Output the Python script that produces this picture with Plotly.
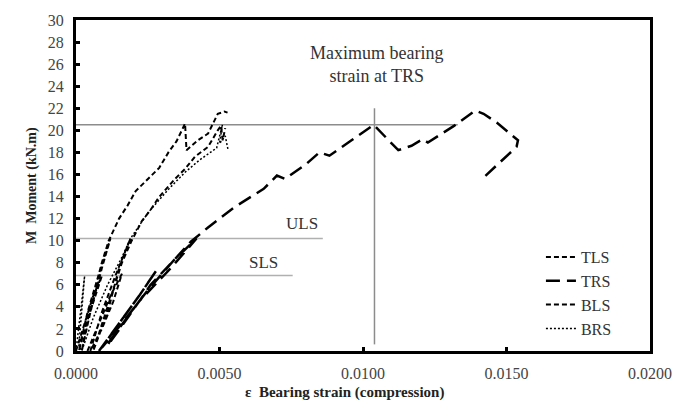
import plotly.graph_objects as go

# ---- data ----
TLS_x = [0.0000, 0.0003, 0.0006, 0.0009, 0.0006, 0.0003, 0.0001, 0.0004, 0.0008, 0.0012, 0.0009, 0.0005,
         0.0002, 0.0005, 0.0009, 0.00114, 0.0015, 0.0018, 0.00208, 0.0026, 0.0029, 0.00322, 0.0035,
         0.0038, 0.00385, 0.00425, 0.0046, 0.00494, 0.00517, 0.00528]
TLS_y = [0, 2.5, 5, 6.8, 4.5, 2, 0, 3.5, 7, 10.2, 7.5, 3.5,
         0, 4, 8, 10, 12, 13.2, 14.5, 15.8, 16.6, 18.0, 19.0,
         20.6, 18.2, 19.1, 19.7, 21.5, 21.7, 21.6]

TRS_x = [0.0008, 0.0015, 0.0022, 0.0028, 0.0022, 0.0015, 0.0009, 0.0016, 0.0025, 0.0034, 0.0042, 0.0033,
         0.0022, 0.0012, 0.0011, 0.0018, 0.0026, 0.0034, 0.0040, 0.0046, 0.0055, 0.00654, 0.0070,
         0.00728, 0.0080, 0.00848, 0.00883, 0.0096, 0.01037, 0.01123, 0.01169, 0.01208, 0.01226,
         0.01317, 0.01391, 0.0142, 0.01466, 0.0154, 0.01535, 0.01415]
TRS_y = [0, 2.5, 5, 7.3, 5, 2.5, 0.3, 2.5, 5.5, 8.2, 10.2, 7.5,
         4.5, 1.0, 0.5, 3, 6, 8.2, 9.9, 11.2, 13.0, 14.7, 15.9,
         15.6, 16.9, 18.0, 17.7, 19.1, 20.5, 18.2, 18.6, 19.2, 18.9,
         20.4, 21.8, 21.5, 20.7, 19.1, 18.5, 15.6]

BLS_x = [0.0004, 0.0008, 0.0012, 0.0016, 0.0013, 0.0009, 0.0005, 0.0009, 0.0014, 0.0019, 0.0015, 0.0011,
         0.0006, 0.0011, 0.0016, 0.00194, 0.0023, 0.0026, 0.00288, 0.00345, 0.0038, 0.00414, 0.0046,
         0.00494, 0.00505, 0.00511, 0.0052]
BLS_y = [0, 2.5, 5, 7.0, 4.5, 2, 0, 3.5, 7, 10.2, 7.5, 3.5,
         0, 4, 8, 10, 11.8, 12.8, 13.9, 15.6, 16.5, 17.6, 18.5,
         20.0, 20.4, 19.1, 20.2]

BRS_x = [0.0000, 0.0001, 0.0002, 0.0003, 0.0002, 0.0001, 0.0002, 0.0006, 0.0011, 0.0016, 0.0019, 0.0025,
         0.0032, 0.0038, 0.0043, 0.0047, 0.0049, 0.0051, 0.0050, 0.0052, 0.0053]
BRS_y = [0, 2, 4.5, 6.8, 3.5, 0.5, 0, 3, 6, 8.5, 10.2, 12.5,
         14.6, 16.2, 17.3, 18.0, 18.4, 20.5, 18.8, 19.5, 18.2]

# reference levels
max_moment = 20.5
max_moment_x_end = 0.0133
max_strain = 0.0104
max_strain_y = [0.6, 22.0]
ULS = 10.2
ULS_x_end = 0.0086
SLS = 6.85
SLS_x_end = 0.00755

x_ticks = [0.0, 0.005, 0.01, 0.015, 0.02]
y_ticks = list(range(0, 31, 2))

FONT = "Liberation Serif"

fig = go.Figure()
series = [
    ("TLS", TLS_x, TLS_y, dict(color="black", width=2, dash="5px,3px")),
    ("TRS", TRS_x, TRS_y, dict(color="black", width=2.5, dash="14px,7px")),
    ("BLS", BLS_x, BLS_y, dict(color="black", width=2, dash="5px,3px")),
    ("BRS", BRS_x, BRS_y, dict(color="black", width=1.5, dash="2px,2px")),
]
for name, xs, ys, ln in series:
    fig.add_trace(go.Scatter(x=xs, y=ys, mode="lines", name=name, line=ln))

fig.add_shape(type="line", x0=0, x1=max_moment_x_end, y0=max_moment, y1=max_moment,
              line=dict(color="#8c8c8c", width=1.5), layer="below")
fig.add_shape(type="line", x0=max_strain, x1=max_strain, y0=max_strain_y[0], y1=max_strain_y[1],
              line=dict(color="#8c8c8c", width=1.5), layer="below")
fig.add_shape(type="line", x0=0, x1=ULS_x_end, y0=ULS, y1=ULS,
              line=dict(color="#b0b0b0", width=1.5), layer="below")
fig.add_shape(type="line", x0=0, x1=SLS_x_end, y0=SLS, y1=SLS,
              line=dict(color="#b0b0b0", width=1.5), layer="below")

fig.add_annotation(x=0.01046, y=26.0, text="Maximum bearing<br>strain at TRS", showarrow=False,
                   font=dict(family=FONT, size=18, color="#333333"))
fig.add_annotation(x=0.00786, y=11.6, text="ULS", showarrow=False,
                   font=dict(family=FONT, size=17, color="#333333"))
fig.add_annotation(x=0.00655, y=8.0, text="SLS", showarrow=False,
                   font=dict(family=FONT, size=17, color="#333333"))

# axis titles
fig.add_annotation(xref="paper", yref="paper", x=-0.095, y=0.5, textangle=-90,
                   text="<b>M  Moment (kN.m)</b>", showarrow=False,
                   font=dict(family=FONT, size=14, color="#222222"))
fig.add_annotation(xref="paper", yref="paper", x=0.468, y=-0.125, yanchor="middle",
                   text="<b>ε  Bearing strain (compression)</b>", showarrow=False,
                   font=dict(family=FONT, size=15, color="#222222"))

fig.update_layout(
    width=684, height=410,
    margin=dict(l=76, r=23, t=19, b=59),
    plot_bgcolor="white", paper_bgcolor="white",
    font=dict(family=FONT, size=16, color="#333333"),
    showlegend=True,
    legend=dict(x=0.81, y=0.335, xanchor="left", yanchor="top", bgcolor="rgba(0,0,0,0)",
                font=dict(family=FONT, size=16, color="#333333"), tracegroupgap=0),
)
fig.update_xaxes(range=[0, 0.02], tickvals=x_ticks, tickformat=".4f", showgrid=False, zeroline=False,
                 showline=True, linecolor="black", linewidth=3, mirror=True,
                 ticks="inside", ticklen=4, tickwidth=3, tickcolor="black",
                 tickfont=dict(family=FONT, size=16, color="#444444"), ticklabelstandoff=6)
fig.update_yaxes(range=[0, 30], tickvals=y_ticks, showgrid=False, zeroline=False,
                 showline=True, linecolor="black", linewidth=3, mirror=True,
                 ticks="inside", ticklen=4, tickwidth=3, tickcolor="black",
                 tickfont=dict(family=FONT, size=16, color="#444444"), ticklabelstandoff=6)

fig.write_html("out.html")
